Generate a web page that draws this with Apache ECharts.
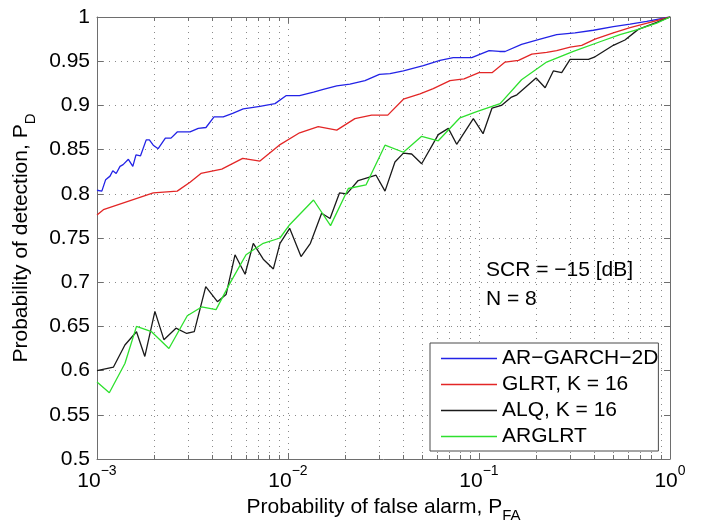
<!DOCTYPE html>
<html>
<head>
<meta charset="utf-8">
<script src="https://cdn.jsdelivr.net/npm/echarts@6/dist/echarts.min.js"></script>
<style>
html,body{margin:0;padding:0;background:#fff;}
#c{width:704px;height:525px;}
</style>
</head>
<body>
<div id="c"></div>
<script>
// ---- data ----
const seriesNames = ['AR−GARCH−2D', 'GLRT, K = 16', 'ALQ, K = 16', 'ARGLRT'];

const arGarchPfa = [0.001,0.00106,0.00111,0.00117,0.00121,0.00126,0.00132,0.00137,0.00146,0.00154,0.00160,0.00169,0.00181,0.00188,0.00197,0.00209,0.00228,0.00244,0.00263,0.00307,0.00339,0.00372,0.00410,0.00458,0.00513,0.00583,0.00713,0.00855,0.00976,0.0115,0.0136,0.0153,0.0180,0.0211,0.0253,0.0301,0.0342,0.0402,0.0511,0.0625,0.0733,0.0916,0.113,0.128,0.137,0.167,0.209,0.255,0.318,0.397,0.505,0.618,0.755,1];
const arGarchPd  = [0.804,0.803,0.816,0.820,0.826,0.823,0.831,0.833,0.839,0.831,0.844,0.843,0.861,0.861,0.855,0.851,0.863,0.863,0.870,0.870,0.874,0.875,0.887,0.887,0.891,0.896,0.899,0.902,0.911,0.911,0.915,0.918,0.922,0.924,0.928,0.935,0.936,0.939,0.945,0.951,0.954,0.954,0.962,0.961,0.961,0.969,0.975,0.980,0.982,0.985,0.989,0.992,0.995,1];

const glrtPfa = [0.001,0.00108,0.00197,0.00263,0.00307,0.00350,0.00450,0.00579,0.00713,0.00900,0.0115,0.0144,0.0180,0.0224,0.0274,0.0333,0.0402,0.0491,0.0576,0.0705,0.0835,0.100,0.117,0.137,0.161,0.189,0.226,0.255,0.300,0.345,0.405,0.505,0.618,0.786,1];
const glrtPd  = [0.776,0.782,0.801,0.803,0.813,0.823,0.828,0.840,0.837,0.855,0.869,0.876,0.872,0.885,0.889,0.889,0.907,0.913,0.919,0.928,0.930,0.937,0.937,0.949,0.951,0.958,0.960,0.962,0.966,0.968,0.975,0.982,0.988,0.994,1];

const alqPfa = [0.001,0.00122,0.00140,0.00161,0.00178,0.00201,0.00224,0.00259,0.00295,0.00323,0.00371,0.00427,0.00474,0.00528,0.00596,0.00658,0.00742,0.00838,0.00908,0.0102,0.0117,0.0131,0.0150,0.0166,0.0186,0.0203,0.0233,0.0289,0.0322,0.0363,0.0402,0.0444,0.0501,0.0612,0.0691,0.0764,0.0934,0.105,0.117,0.131,0.147,0.158,0.199,0.222,0.245,0.271,0.300,0.374,0.405,0.505,0.581,0.682,0.852,1];
const alqPd  = [0.600,0.604,0.629,0.644,0.616,0.667,0.635,0.648,0.642,0.644,0.695,0.678,0.686,0.731,0.709,0.744,0.726,0.715,0.744,0.761,0.729,0.744,0.778,0.772,0.801,0.800,0.815,0.821,0.803,0.836,0.846,0.845,0.834,0.867,0.874,0.856,0.885,0.868,0.897,0.900,0.909,0.912,0.931,0.920,0.939,0.937,0.952,0.952,0.955,0.968,0.974,0.986,0.994,1];

const arglrtPfa = [0.001,0.00116,0.00140,0.00161,0.00193,0.00238,0.00297,0.00353,0.00420,0.00497,0.00603,0.00742,0.00908,0.0102,0.0136,0.0167,0.0207,0.0256,0.0322,0.0402,0.0501,0.0612,0.0795,0.0973,0.129,0.167,0.226,0.312,0.430,0.547,0.682,0.852,1];
const arglrtPd  = [0.587,0.575,0.608,0.650,0.644,0.625,0.662,0.672,0.669,0.699,0.731,0.744,0.750,0.765,0.793,0.764,0.806,0.810,0.855,0.847,0.865,0.860,0.886,0.893,0.902,0.929,0.949,0.961,0.972,0.980,0.986,0.993,1];

const xMin = 0.001, xMax = 1;
const yMin = 0.5, yMax = 1, yStep = 0.05;
const xMinorTicks = [0.002,0.003,0.004,0.005,0.006,0.007,0.008,0.009,0.02,0.03,0.04,0.05,0.06,0.07,0.08,0.09,0.2,0.3,0.4,0.5,0.6,0.7,0.8,0.9];
const annotation = ['SCR = −15 [dB]', 'N = 8'];
const xTitle = 'Probability of false alarm, P';
const xTitleSub = 'FA';
const yTitle = 'Probability of detection, P';
const yTitleSub = 'D';

// ---- chart ----
const FONT = '"Liberation Sans", Arial, Helvetica, sans-serif';
const FS = 21;
const colors = ['#2323e6', '#e32626', '#1a1a1a', '#2ee02e'];
const zip = (a, b) => a.map((v, i) => [v, b[i]]);
const axisGray = '#6e6e6e';
const gridDot = { color: '#8a8a8a', width: 1, type: [1, 5] };

const chart = echarts.init(document.getElementById('c'), null, { renderer: 'canvas' });

function expLabel(v) {
  const e = Math.round(Math.log10(v));
  return '{b|10}{sup|' + (e < 0 ? '−' + (-e) : e) + '}';
}

const lineSeries = [
  [arGarchPfa, arGarchPd], [glrtPfa, glrtPd], [alqPfa, alqPd], [arglrtPfa, arglrtPd]
].map((d, i) => ({
  name: seriesNames[i],
  type: 'line',
  xAxisIndex: 0, yAxisIndex: 0,
  data: zip(d[0], d[1]),
  symbol: 'none',
  lineStyle: { color: colors[i], width: 1.3 },
  itemStyle: { color: colors[i] },
  z: 5 + i,
  animation: false
}));

const minorSeries = {
  type: 'custom',
  xAxisIndex: 0, yAxisIndex: 0,
  silent: true,
  z: 1,
  animation: false,
  data: xMinorTicks.map(v => [v, yMin]),
  encode: { x: 0, y: 1 },
  renderItem: function (params, api) {
    const v = api.value(0);
    const b = api.coord([v, yMin]);
    const t = api.coord([v, yMax]);
    const x = Math.round(b[0]) + 0.5;
    return {
      type: 'group',
      children: [
        { type: 'line', shape: { x1: x, y1: b[1], x2: x, y2: t[1] }, style: { stroke: gridDot.color, lineWidth: 1, lineDash: gridDot.type } },
        { type: 'line', shape: { x1: x, y1: b[1], x2: x, y2: b[1] - 4 }, style: { stroke: axisGray, lineWidth: 1 } },
        { type: 'line', shape: { x1: x, y1: t[1], x2: x, y2: t[1] + 4 }, style: { stroke: axisGray, lineWidth: 1 } }
      ]
    };
  }
};

const option = {
  backgroundColor: '#ffffff',
  animation: false,
  textStyle: { fontFamily: FONT },
  grid: { left: 97, right: 34, top: 17, bottom: 66, containLabel: false, outerBoundsMode: 'none' },
  legend: {
    data: seriesNames.map((n, i) => ({ name: n, icon: 'rect', itemStyle: { color: colors[i] } })),
    orient: 'vertical',
    left: 430, top: 343,
    padding: [5, 0, 4, 11],
    itemWidth: 56, itemHeight: 1.5, itemGap: 5,
    backgroundColor: '#ffffff',
    borderColor: '#4a4a4a', borderWidth: 1, borderRadius: 0,
    textStyle: { fontFamily: FONT, fontSize: FS, color: '#000' },
    selectedMode: false
  },
  graphic: [
    { type: 'text', left: 486, top: 260, z: 10, style: { text: annotation[0], font: FS + 'px ' + FONT, fill: '#000' } },
    { type: 'text', left: 486, top: 289, z: 10, style: { text: annotation[1], font: FS + 'px ' + FONT, fill: '#000' } }
  ],
  xAxis: [
    {
      type: 'log', logBase: 10, min: xMin, max: xMax, position: 'bottom',
      axisLine: { show: true, onZero: false, lineStyle: { color: axisGray, width: 1 } },
      axisTick: { show: true, inside: true, length: 6, lineStyle: { color: axisGray } },
      minorTick: { show: false },
      splitLine: { show: true, lineStyle: gridDot },
      axisLabel: {
        margin: 5,
        formatter: expLabel,
        rich: {
          b: { fontSize: FS, fontFamily: FONT, color: '#000', lineHeight: 28, verticalAlign: 'bottom' },
          sup: { fontSize: 14, fontFamily: FONT, color: '#000', lineHeight: 28, verticalAlign: 'top' }
        }
      },
      name: '{t|' + xTitle + '}{s|' + xTitleSub + '}',
      nameLocation: 'middle',
      nameGap: 37,
      nameTextStyle: {
        rich: {
          t: { fontSize: FS, fontFamily: FONT, color: '#000', lineHeight: 26, verticalAlign: 'top' },
          s: { fontSize: 15, fontFamily: FONT, color: '#000', lineHeight: 26, verticalAlign: 'bottom' }
        }
      }
    },
    {
      type: 'log', logBase: 10, min: xMin, max: xMax, position: 'top',
      axisLine: { show: true, onZero: false, lineStyle: { color: axisGray, width: 1 } },
      axisTick: { show: true, inside: true, length: 6, lineStyle: { color: axisGray } },
      axisLabel: { show: false },
      splitLine: { show: false }
    }
  ],
  yAxis: [
    {
      type: 'value', min: yMin, max: yMax, interval: yStep, position: 'left',
      axisLine: { show: true, onZero: false, lineStyle: { color: axisGray, width: 1 } },
      axisTick: { show: true, inside: true, length: 6, lineStyle: { color: axisGray } },
      splitLine: { show: true, lineStyle: gridDot },
      axisLabel: { fontSize: FS, fontFamily: FONT, color: '#000', margin: 7,
        formatter: v => String(Math.round(v * 100) / 100) },
      name: '{t|' + yTitle + '}{s|' + yTitleSub + '}',
      nameLocation: 'middle',
      nameGap: 58,
      nameRotate: 90,
      nameTextStyle: {
        rich: {
          t: { fontSize: FS, fontFamily: FONT, color: '#000', lineHeight: 28, verticalAlign: 'top' },
          s: { fontSize: 15, fontFamily: FONT, color: '#000', lineHeight: 28, verticalAlign: 'bottom' }
        }
      }
    },
    {
      type: 'value', min: yMin, max: yMax, interval: yStep, position: 'right',
      axisLine: { show: true, onZero: false, lineStyle: { color: axisGray, width: 1 } },
      axisTick: { show: true, inside: true, length: 6, lineStyle: { color: axisGray } },
      axisLabel: { show: false },
      splitLine: { show: false }
    }
  ],
  series: [minorSeries].concat(lineSeries)
};

chart.setOption(option);
</script>
</body>
</html>
